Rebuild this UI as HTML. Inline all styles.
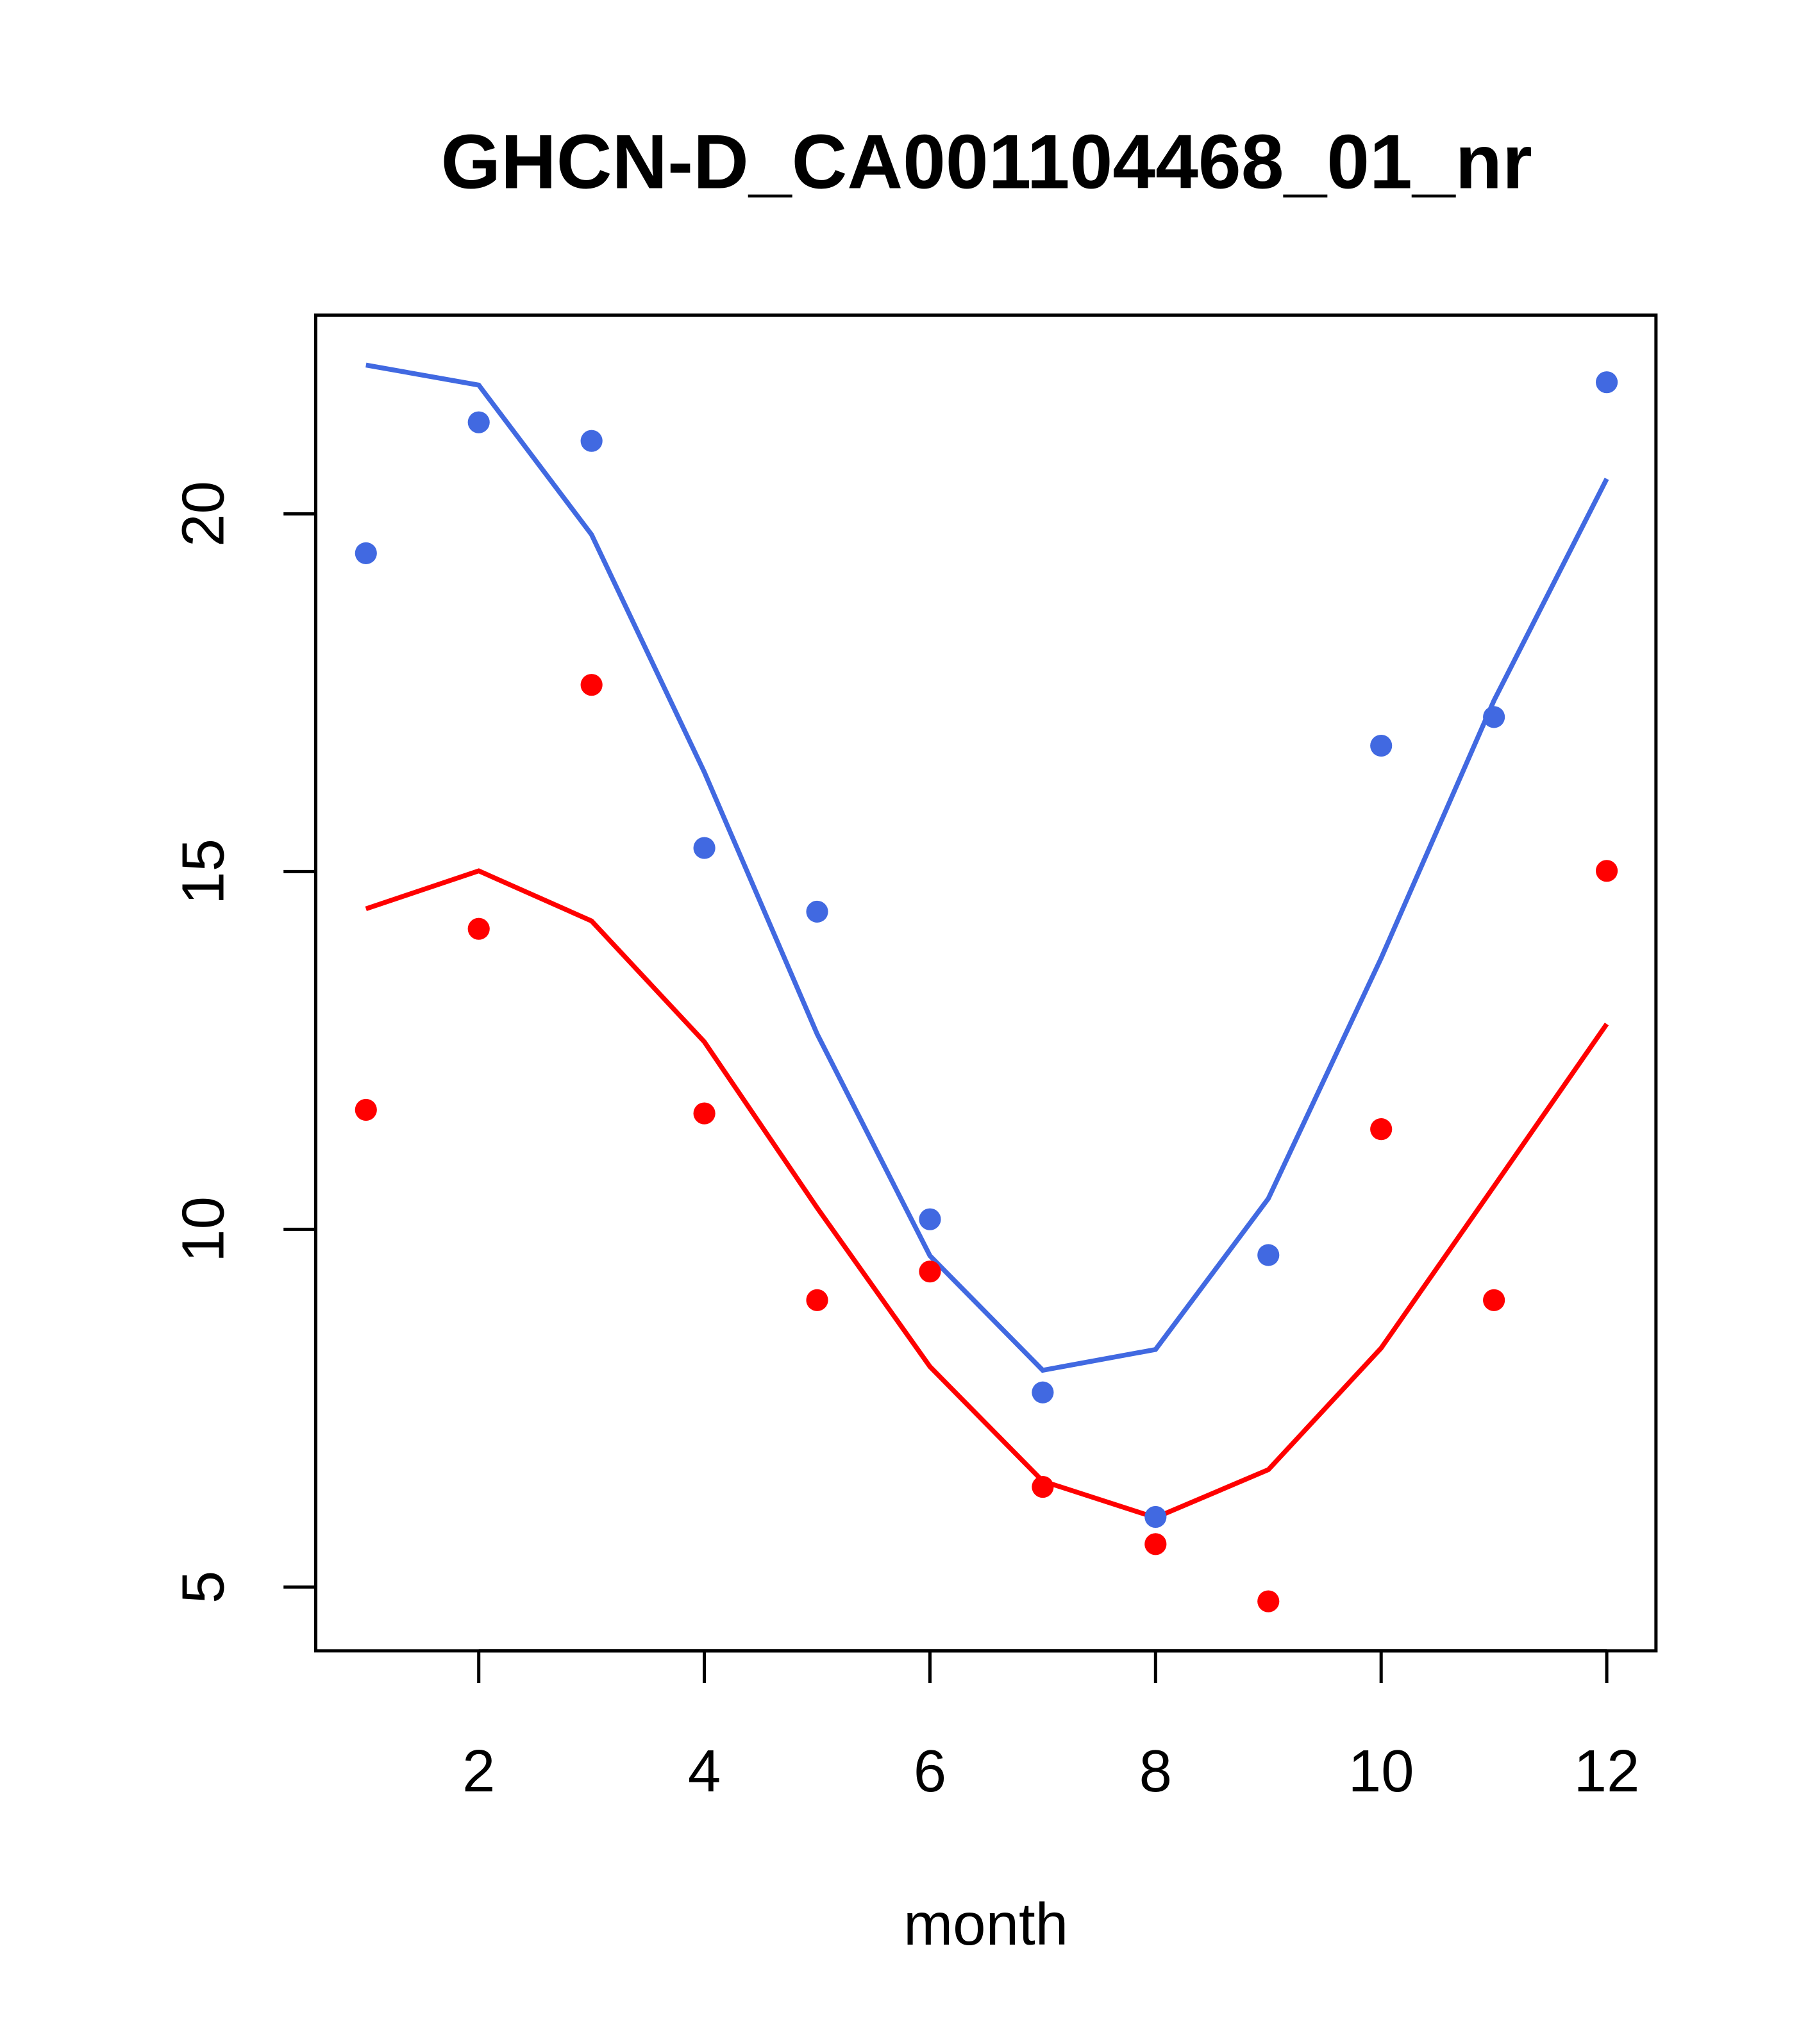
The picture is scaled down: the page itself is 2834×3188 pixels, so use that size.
<!DOCTYPE html>
<html><head><meta charset="utf-8"><style>
html,body{margin:0;padding:0;background:#fff;}
svg{display:block;font-family:"Liberation Sans",Arial,sans-serif;}
</style></head><body>
<svg id="chart" width="2834" height="3188" viewBox="0 0 2834 3188" xmlns="http://www.w3.org/2000/svg">
<rect width="2834" height="3188" fill="#fff"/>
<g transform="scale(1.005)">
<text x="1531" y="292" text-anchor="middle" font-size="119.5" font-weight="bold">GHCN-D_CA001104468_01_nr</text>
<rect x="490" y="489" width="2080" height="2073" fill="none" stroke="#000" stroke-width="5"/>
<g id="xaxis"></g>
<g id="yaxis"></g>
<text x="1530" y="3018" text-anchor="middle" font-size="92">month</text>
<g id="series"></g>
</g>
</svg>
<script>
const months = [1,2,3,4,5,6,7,8,9,10,11,12];
const bluePoints = [19.45,21.28,21.02,15.33,14.44,10.14,7.72,5.98,9.64,16.76,17.16,21.84];
const blueLine = [22.08,21.80,19.71,16.39,12.73,9.63,8.03,8.32,10.43,13.79,17.39,20.49];
const redPoints = [11.67,14.20,17.61,11.62,9.01,9.41,6.40,5.60,4.80,11.40,9.01,15.01];
const redLine = [14.48,15.01,14.31,12.62,10.30,8.08,6.48,5.97,6.64,8.34,10.60,12.87];
const xTicks = [2,4,6,8,10,12];
const yTicks = [5,10,15,20];

const NS = "http://www.w3.org/2000/svg";
function xs(m){ return 743 + (m-2)*175.06; }
function ys(v){ return 797.5 - (v-20)*111.03; }
function mk(tag, attrs, parent){
  const el = document.createElementNS(NS, tag);
  for (const k in attrs) el.setAttribute(k, attrs[k]);
  parent.appendChild(el);
  return el;
}
const xa = document.getElementById('xaxis');
const ya = document.getElementById('yaxis');
const sr = document.getElementById('series');
mk('line',{x1:xs(2),x2:xs(12),y1:2562,y2:2562,stroke:'#000','stroke-width':5},xa);
xTicks.forEach(t=>{
  const l = mk('line',{x1:xs(t),x2:xs(t),y1:2562,y2:2612,stroke:'#000','stroke-width':5},xa);
  
  
  const tx = mk('text',{x:xs(t),y:2780,'text-anchor':'middle','font-size':92},xa);
  tx.textContent = t;
  
  
});
mk('line',{x1:490,x2:490,y1:ys(5),y2:ys(20),stroke:'#000','stroke-width':5},ya);
yTicks.forEach(t=>{
  const l = mk('line',{x1:440,x2:490,y1:ys(t),y2:ys(t),stroke:'#000','stroke-width':5},ya);
  
  
  const tx = mk('text',{x:0,y:0,'text-anchor':'middle','font-size':92,transform:`translate(347,${ys(t)}) rotate(-90)`},ya);
  tx.textContent = t;
  
  
});
function drawLine(vals,color,name){
  const p = mk('polyline',{points:vals.map((v,i)=>xs(months[i])+','+ys(v)).join(' '),fill:'none',stroke:color,'stroke-width':7.5},sr);
  
  
}
function drawPts(vals,color,name){
  vals.forEach((v,i)=>{
    const c = mk('circle',{cx:xs(months[i]),cy:ys(v),r:17,fill:color},sr);
    
    
  });
}
drawLine(blueLine,'#4169e1','blue-line');
drawLine(redLine,'#ff0000','red-line');
drawPts(bluePoints,'#4169e1','blue-point');
drawPts(redPoints,'#ff0000','red-point');
</script>
</body></html>
